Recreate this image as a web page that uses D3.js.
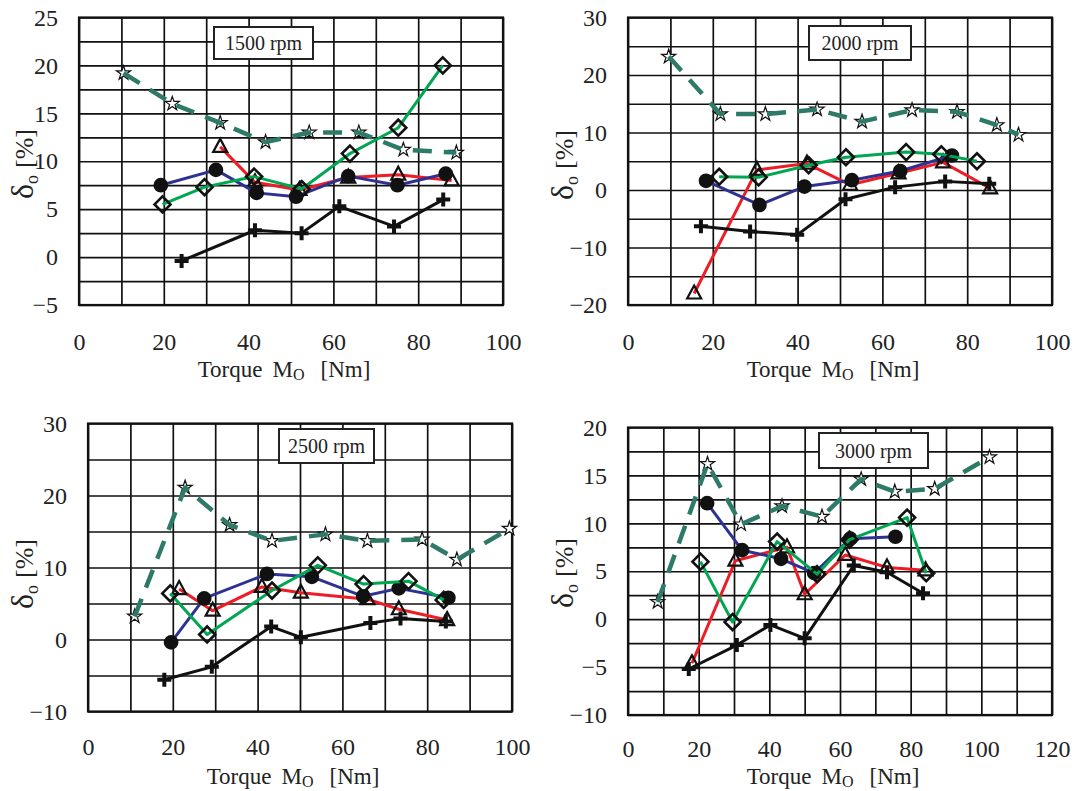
<!DOCTYPE html>
<html><head><meta charset="utf-8">
<script src="https://cdn.jsdelivr.net/npm/d3@7/dist/d3.min.js"></script>
<style>html,body{margin:0;padding:0;background:#fff}</style>
</head><body><svg id="c" width="1085" height="791"></svg>
<script>
// ---------- DATA ----------
const rpmLabels = ["1500 rpm", "2000 rpm", "2500 rpm", "3000 rpm"];
const xTicks100 = [0, 20, 40, 60, 80, 100];
const xTicks120 = [0, 20, 40, 60, 80, 100, 120];
const yTicks1500 = [-5, 0, 5, 10, 15, 20, 25];
const yTicks2000 = [-20, -10, 0, 10, 20, 30];
const yTicks2500 = [-10, 0, 10, 20, 30];
const yTicks3000 = [-10, -5, 0, 5, 10, 15, 20];

// series: star (dashed teal), tri (red), dot (blue), dia (green), plus (black)
const star1500 = [[10.5,19.2],[22,16],[33.3,14],[44,12],[54.3,13],[66,13],[76.5,11.2],[89,10.9]];
const tri1500  = [[33.3,11.5],[41.5,7.8],[52,7.0],[63.5,8.3],[75.3,8.6],[87.9,8.0]];
const dot1500  = [[19.3,7.5],[32.3,9.1],[41.9,6.7],[51.2,6.3],[63.5,8.45],[75.1,7.5],[86.5,8.7]];
const dia1500  = [[19.7,5.5],[29.6,7.3],[41.3,8.4],[52.5,7.1],[63.9,10.8],[75.3,13.5],[85.8,20]];
const plus1500 = [[24.2,-0.4],[41.5,2.8],[52.5,2.5],[61.4,5.3],[74.3,3.2],[85.9,6.0]];

const star2000 = [[9.6,23.2],[21.8,13.2],[32.4,13.2],[44.6,14],[55.2,11.9],[67,13.9],[77.6,13.6],[87,11.3],[92.1,9.6]];
const tri2000  = [[15.6,-18],[30.4,3.5],[42.2,4.6],[52.4,0.9],[63.8,2.9],[74.3,4.8],[85.4,0.3]];
const dot2000  = [[18.4,1.6],[31,-2.6],[41.6,0.6],[52.8,1.7],[64.2,3.3],[76.4,6.0]];
const dia2000  = [[21.5,2.3],[30.8,2.2],[42.6,4.3],[51.4,5.7],[65.6,6.6],[73.9,6.2],[82.3,5.0]];
const plus2000 = [[17.2,-6.3],[28.8,-7.2],[39.9,-7.8],[51.3,-1.6],[63,0.5],[74.8,1.5],[85.2,1.1]];

const star2500 = [[11,3.2],[22.9,21.1],[33.4,15.9],[43.4,13.7],[56,14.6],[65.9,13.7],[78.8,13.9],[87,11.1],[99.4,15.4]];
const tri2500  = [[21.5,7.0],[29.4,4.0],[41,7.3],[50.2,6.5],[65.9,5.6],[73.3,4.2],[84.7,2.7]];
const dot2500  = [[19.6,-0.4],[27.4,5.7],[42.2,9.1],[52.8,8.7],[64.9,6],[73.3,7.1],[85,5.8]];
const dia2500  = [[19.4,6.4],[28.1,0.7],[43.4,6.8],[54.2,10.3],[65,7.7],[75.6,8.1],[83.9,5.5]];
const plus2500 = [[18,-5.6],[29.2,-3.8],[43.2,1.8],[50.2,0.3],[66.6,2.3],[73.7,2.9],[84.4,2.5]];

const star3000 = [[8.4,1.8],[22.5,16.2],[32,9.9],[43.6,11.8],[54.9,10.7],[66,14.6],[75.5,13.3],[86.8,13.6],[102.3,16.9]];
const tri3000  = [[18.1,-4.6],[30.4,6.1],[45,7.5],[50,2.6],[61.5,6.7],[73.3,5.4],[84.2,5.1]];
const dot3000  = [[22.4,12.1],[32.3,7.2],[43.3,6.3],[52.7,4.8],[62.9,8.4],[75.7,8.6]];
const dia3000  = [[20.5,6],[29.6,-0.3],[42.2,8.1],[53.5,4.7],[62.7,8.3],[79,10.6],[84.4,4.8]];
const plus3000 = [[17.2,-5.2],[30.8,-2.7],[40.3,-0.6],[50,-2],[63.9,5.6],[73.3,4.9],[83.5,2.7]];

// ---------- LAYOUT ----------
const FONT = "Liberation Serif";
const panels = [
  {label: rpmLabels[0], left: 79, right: 503, top: 17.5, bottom: 305, xDomain: [0,100], xGrid: 10, xTicks: xTicks100,
   yDomain: [-5,25], yGrid: 2.5, yTicks: yTicks1500, box: [214,27,99,32], yTitleX: 24, yTitleY: 164,
   xPad: 28, xTitleBase: 377, series: {star: star1500, tri: tri1500, dot: dot1500, dia: dia1500, plus: plus1500}},
  {label: rpmLabels[1], left: 628, right: 1052, top: 17.5, bottom: 305, xDomain: [0,100], xGrid: 10, xTicks: xTicks100,
   yDomain: [-20,30], yGrid: 5, yTicks: yTicks2000, box: [809,26,102,34], yTitleX: 564, yTitleY: 165,
   xPad: 28, xTitleBase: 377, series: {star: star2000, tri: tri2000, dot: dot2000, dia: dia2000, plus: plus2000}},
  {label: rpmLabels[2], left: 88, right: 512, top: 423.5, bottom: 711.5, xDomain: [0,100], xGrid: 10, xTicks: xTicks100,
   yDomain: [-10,30], yGrid: 5, yTicks: yTicks2500, box: [279,429,95,34], yTitleX: 24, yTitleY: 574,
   xPad: 26, xTitleBase: 784, series: {star: star2500, tri: tri2500, dot: dot2500, dia: dia2500, plus: plus2500}},
  {label: rpmLabels[3], left: 628, right: 1052, top: 427.5, bottom: 715, xDomain: [0,120], xGrid: 10, xTicks: xTicks120,
   yDomain: [-10,20], yGrid: 2.5, yTicks: yTicks3000, box: [819,433,109,35], yTitleX: 564, yTitleY: 573,
   xPad: 25, xTitleBase: 784, series: {star: star3000, tri: tri3000, dot: dot3000, dia: dia3000, plus: plus3000}}
];

const styles = {
  star: {color: "#2d7a68", width: 4.5, dash: "19,12"},
  tri:  {color: "#ee1c25", width: 3},
  dot:  {color: "#2e3192", width: 3},
  dia:  {color: "#00a651", width: 3},
  plus: {color: "#111111", width: 3}
};
const order = ["star", "tri", "dot", "dia", "plus"];

const svg = d3.select("#c");

function drawPanel(p) {
  const x = d3.scaleLinear().domain(p.xDomain).range([p.left, p.right]);
  const y = d3.scaleLinear().domain(p.yDomain).range([p.bottom, p.top]);
  const g = svg.append("g");
  const h = p.bottom - p.top, w = p.right - p.left;

  // grid
  const xg = d3.range(p.xDomain[0], p.xDomain[1] + 1e-6, p.xGrid);
  const yg = d3.range(p.yDomain[0], p.yDomain[1] + 1e-6, p.yGrid);
  const gx = g.append("g").attr("transform", `translate(0,${p.bottom})`)
    .call(d3.axisBottom(x).tickValues(xg).tickSize(-h).tickFormat(""));
  const gy = g.append("g").attr("transform", `translate(${p.left},0)`)
    .call(d3.axisLeft(y).tickValues(yg).tickSize(-w).tickFormat(""));
  [gx, gy].forEach(a => {
    a.select(".domain").remove();
    a.selectAll("line").attr("stroke", "#111").attr("stroke-width", 1.7);
  });
  g.append("rect").attr("x", p.left).attr("y", p.top).attr("width", w).attr("height", h)
    .attr("fill", "none").attr("stroke", "#111").attr("stroke-width", 2.2);

  // tick labels
  const ax = g.append("g").attr("transform", `translate(0,${p.bottom})`)
    .call(d3.axisBottom(x).tickValues(p.xTicks).tickSize(0).tickPadding(p.xPad).tickFormat(d3.format("d")));
  const ay = g.append("g").attr("transform", `translate(${p.left},0)`)
    .call(d3.axisLeft(y).tickValues(p.yTicks).tickSize(0).tickPadding(21).tickFormat(d3.format("d")));
  [ax, ay].forEach(a => {
    a.attr("font-family", FONT);
    a.select(".domain").remove();
    a.selectAll("text").attr("font-family", FONT).attr("font-size", 24).attr("fill", "#222");
  });

  // axis titles
  const xt = g.append("text").attr("x", (p.left + p.right) / 2 - 7).attr("y", p.xTitleBase)
    .attr("text-anchor", "middle").attr("font-family", FONT).attr("font-size", 23).attr("fill", "#222");
  xt.append("tspan").text("Torque");
  xt.append("tspan").attr("dx", 10).text("M");
  xt.append("tspan").attr("font-size", 16).attr("dy", 3).text("O");
  xt.append("tspan").attr("dy", -3).attr("dx", 16).text("[Nm]");

  const yt = g.append("text").attr("transform", `translate(${p.yTitleX + 9},${p.yTitleY}) rotate(-90)`)
    .attr("text-anchor", "middle").attr("font-family", FONT).attr("font-size", 26).attr("fill", "#222");
  yt.append("tspan").attr("font-size", 32).text("δ");
  yt.append("tspan").attr("font-size", 18).attr("dy", 5).text("o");
  yt.append("tspan").attr("dy", -5).attr("dx", 7).text("[%]");

  // series
  const line = d3.line().x(d => x(d[0])).y(d => y(d[1]));
  order.forEach(k => {
    const data = p.series[k], st = styles[k];
    const sg = g.append("g");
    const ln = () => sg.append("path").attr("d", line(data)).attr("fill", "none")
      .attr("stroke", st.color).attr("stroke-width", st.width)
      .attr("stroke-dasharray", st.dash || null).attr("stroke-linejoin", "round");
    if (k !== "star") ln();
    const m = sg.selectAll(".m").data(data).enter().append("path")
      .attr("transform", d => `translate(${x(d[0])},${y(d[1])})`);
    if (k === "star") {
      m.attr("d", d3.symbol().type(d3.symbolStar).size(62)).attr("fill", "#fff")
        .attr("stroke", "#111").attr("stroke-width", 1.2);
      ln();
    } else if (k === "tri") {
      m.attr("d", "M0,-8L7,5L-7,5Z").attr("fill", "none").attr("stroke", "#111").attr("stroke-width", 2.2);
    } else if (k === "dot") {
      m.attr("d", d3.symbol().type(d3.symbolCircle).size(170)).attr("fill", "#111");
    } else if (k === "dia") {
      m.attr("d", "M0,-8L8,0L0,8L-8,0Z").attr("fill", "none").attr("stroke", "#111").attr("stroke-width", 2.6);
    } else {
      m.attr("d", "M-7,0H7M0,-7V7").attr("fill", "none").attr("stroke", "#111").attr("stroke-width", 4);
    }
  });

  // rpm label box
  const b = p.box;
  g.append("rect").attr("x", b[0]).attr("y", b[1]).attr("width", b[2]).attr("height", b[3])
    .attr("fill", "#fff").attr("stroke", "#222").attr("stroke-width", 2);
  g.append("text").attr("x", b[0] + b[2] / 2).attr("y", b[1] + b[3] / 2 + 7)
    .attr("text-anchor", "middle").attr("font-family", FONT).attr("font-size", 20).attr("fill", "#222")
    .text(p.label);
}

panels.forEach(drawPanel);
</script>
</body></html>
